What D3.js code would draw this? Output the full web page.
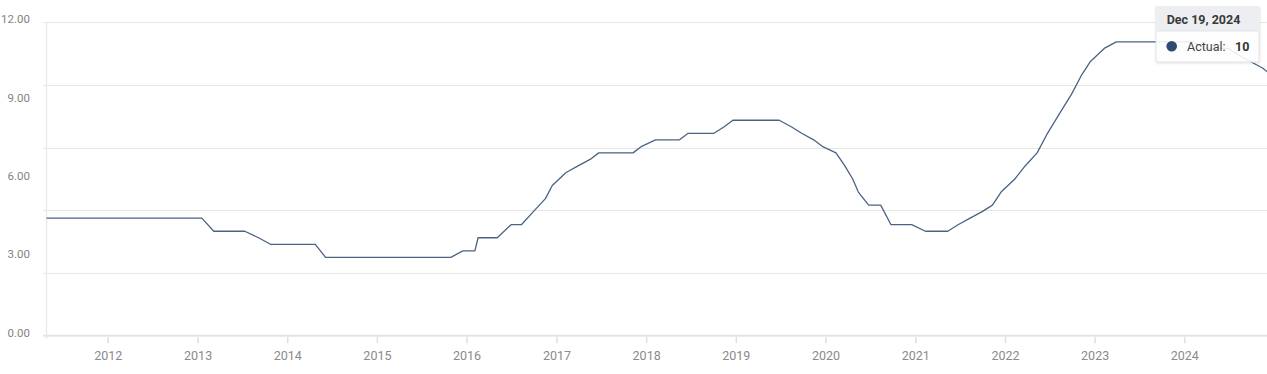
<!DOCTYPE html>
<html>
<head>
<meta charset="utf-8">
<script src="https://cdn.jsdelivr.net/npm/d3@7"></script>
<style>
  html, body { margin: 0; padding: 0; background: #fff; }
  svg { display: block; font-family: Roboto, "Open Sans", sans-serif; }
</style>
</head>
<body>
<svg id="chart" width="1267" height="374"></svg>
<script>
// ---- Data: Banxico policy rate decisions (date, rate %) ----
const decisionDates = [
  "2011-01-21","2011-03-04","2011-04-15","2011-05-27","2011-07-08","2011-08-26","2011-10-14","2011-12-02",
  "2012-01-20","2012-03-16","2012-04-27","2012-06-08","2012-07-20","2012-09-07","2012-10-26","2012-11-30",
  "2013-01-18","2013-03-08","2013-04-26","2013-06-07","2013-07-12","2013-09-06","2013-10-25","2013-12-06",
  "2014-01-31","2014-03-21","2014-04-25","2014-06-06","2014-07-11","2014-09-05","2014-10-31","2014-12-05",
  "2015-01-29","2015-03-26","2015-04-30","2015-06-04","2015-07-30","2015-09-17","2015-10-29","2015-12-17",
  "2016-02-04","2016-02-17","2016-03-18","2016-05-05","2016-06-30","2016-08-11","2016-09-29","2016-11-17","2016-12-15",
  "2017-02-09","2017-03-30","2017-05-18","2017-06-22","2017-08-10","2017-09-28","2017-11-09","2017-12-14",
  "2018-02-08","2018-03-28","2018-05-17","2018-06-21","2018-08-02","2018-10-04","2018-11-15","2018-12-20",
  "2019-02-14","2019-03-28","2019-05-16","2019-06-27","2019-08-15","2019-09-26","2019-11-14","2019-12-19",
  "2020-02-13","2020-03-20","2020-04-21","2020-05-14","2020-06-25","2020-08-13","2020-09-24","2020-11-12","2020-12-17",
  "2021-02-11","2021-03-25","2021-05-13","2021-06-24","2021-08-12","2021-09-30","2021-11-11","2021-12-16",
  "2022-02-10","2022-03-24","2022-05-12","2022-06-23","2022-08-11","2022-09-29","2022-11-10","2022-12-15",
  "2023-02-09","2023-03-30","2023-05-18","2023-06-22","2023-08-10","2023-09-28","2023-11-16","2023-12-14",
  "2024-02-08","2024-03-21","2024-05-16","2024-06-27","2024-08-08","2024-09-26","2024-11-14","2024-12-19"
];
const policyRate = [
  4.5,4.5,4.5,4.5,4.5,4.5,4.5,4.5,
  4.5,4.5,4.5,4.5,4.5,4.5,4.5,4.5,
  4.5,4.0,4.0,4.0,4.0,3.75,3.5,3.5,
  3.5,3.5,3.5,3.0,3.0,3.0,3.0,3.0,
  3.0,3.0,3.0,3.0,3.0,3.0,3.0,3.25,
  3.25,3.75,3.75,3.75,4.25,4.25,4.75,5.25,5.75,
  6.25,6.5,6.75,7.0,7.0,7.0,7.0,7.25,
  7.5,7.5,7.5,7.75,7.75,7.75,8.0,8.25,
  8.25,8.25,8.25,8.25,8.0,7.75,7.5,7.25,
  7.0,6.5,6.0,5.5,5.0,5.0,4.25,4.25,4.25,
  4.0,4.0,4.0,4.25,4.5,4.75,5.0,5.5,
  6.0,6.5,7.0,7.75,8.5,9.25,10.0,10.5,
  11.0,11.25,11.25,11.25,11.25,11.25,11.25,11.25,
  11.25,11.0,11.0,11.0,10.75,10.5,10.25,10.0
];
const yLabelValues = [0, 3, 6, 9, 12];
const yGridValues = [0, 2.4, 4.8, 7.2, 9.6, 12];
const xTickYears = [2012, 2013, 2014, 2015, 2016, 2017, 2018, 2019, 2020, 2021, 2022, 2023, 2024];
const tooltipDate = "Dec 19, 2024";
const tooltipLabel = "Actual:";
const tooltipValue = "10";

// ---- Layout ----
const W = 1267, H = 374;
const plotLeft = 46.5, plotRight = 1267, plotTop = 22.3, plotBottom = 335.7;

const parse = d3.utcParse("%Y-%m-%d");
const data = decisionDates.map((d, i) => ({ date: parse(d), value: policyRate[i] }));

const x = d3.scaleUtc()
  .domain([Date.UTC(2012, 0, 1), Date.UTC(2024, 0, 1)])
  .range([107.7, 1184.3]);
const y = d3.scaleLinear().domain([0, 12]).range([plotBottom, plotTop]);

const svg = d3.select("#chart");

svg.append("defs").append("clipPath").attr("id", "plotclip")
  .append("rect").attr("x", plotLeft).attr("y", 0).attr("width", plotRight - plotLeft).attr("height", H);

const shadow = svg.select("defs").append("filter").attr("id", "shadow")
  .attr("x", "-20%").attr("y", "-20%").attr("width", "140%").attr("height", "160%");
shadow.append("feDropShadow").attr("dx", 0.5).attr("dy", 1).attr("stdDeviation", 1.2)
  .attr("flood-color", "#000").attr("flood-opacity", 0.12);

// Gridlines
svg.append("g").selectAll("line").data(yGridValues.filter(v => v > 0)).join("line")
  .attr("x1", 43).attr("x2", plotRight)
  .attr("y1", d => Math.round(y(d)) + 0.5).attr("y2", d => Math.round(y(d)) + 0.5)
  .attr("stroke", "#e6e6e6").attr("stroke-width", 1);

// Left vertical axis line
svg.append("line")
  .attr("x1", plotLeft).attr("x2", plotLeft).attr("y1", plotTop).attr("y2", 339)
  .attr("stroke", "#ebebeb").attr("stroke-width", 1.5);

// Bottom axis line + ticks
svg.append("line")
  .attr("x1", 43).attr("x2", plotRight).attr("y1", plotBottom).attr("y2", plotBottom)
  .attr("stroke", "#e4e4e4").attr("stroke-width", 2);

const xAxis = d3.axisBottom(x)
  .tickValues(xTickYears.map(yr => new Date(Date.UTC(yr, 0, 1))))
  .tickFormat(d3.utcFormat("%Y"))
  .tickSize(6).tickPadding(8);
const gx = svg.append("g").attr("transform", `translate(0,${plotBottom + 1.5})`).call(xAxis);
gx.select(".domain").remove();
gx.selectAll(".tick line").attr("stroke", "#e0e0e0").attr("stroke-width", 1.5);
gx.selectAll(".tick text").attr("fill", "#8a8a8a").attr("font-size", "12.5px")
  .attr("font-family", "Roboto, sans-serif");

// Y labels
svg.append("g").selectAll("text").data(yLabelValues).join("text")
  .attr("x", 30).attr("y", d => y(d) - 3)
  .attr("text-anchor", "end").attr("dominant-baseline", "central")
  .attr("fill", "#8a817d").attr("font-size", "11.5px")
  .text(d => d3.format(".2f")(d));

// Line
const line = d3.line().x(d => x(d.date)).y(d => y(d.value));
svg.append("path").datum(data)
  .attr("clip-path", "url(#plotclip)")
  .attr("d", line)
  .attr("fill", "none").attr("stroke", "#4a6383").attr("stroke-width", 1.3)
  .attr("stroke-linejoin", "round");

// Tooltip
const tt = svg.append("g").attr("transform", "translate(1156,7)");
tt.append("rect").attr("x", 0).attr("y", 0).attr("width", 103).attr("height", 55)
  .attr("fill", "#ffffff").attr("fill-opacity", 0.88)
  .attr("stroke", "#e3e3e3").attr("stroke-width", 1).attr("filter", "url(#shadow)");
tt.append("rect").attr("x", 0.5).attr("y", 0.5).attr("width", 102).attr("height", 23.5)
  .attr("fill", "#eceef1");
tt.append("line").attr("x1", 0.5).attr("x2", 102.5).attr("y1", 24).attr("y2", 24)
  .attr("stroke", "#dfe2e6").attr("stroke-width", 1);
tt.append("text").attr("x", 47.5).attr("y", 12).attr("text-anchor", "middle")
  .attr("dominant-baseline", "central")
  .attr("font-size", "12.5px").attr("font-weight", "bold").attr("fill", "#3a3a3a")
  .text(tooltipDate);
tt.append("circle").attr("cx", 15.7).attr("cy", 39.3).attr("r", 5.3).attr("fill", "#2e4a6f");
tt.append("text").attr("x", 31).attr("y", 39.5).attr("dominant-baseline", "central")
  .attr("font-size", "12.5px").attr("fill", "#444").text(tooltipLabel);
tt.append("text").attr("x", 79).attr("y", 39.5).attr("dominant-baseline", "central")
  .attr("font-size", "12.5px").attr("font-weight", "bold").attr("fill", "#333").text(tooltipValue);
</script>
</body>
</html>
